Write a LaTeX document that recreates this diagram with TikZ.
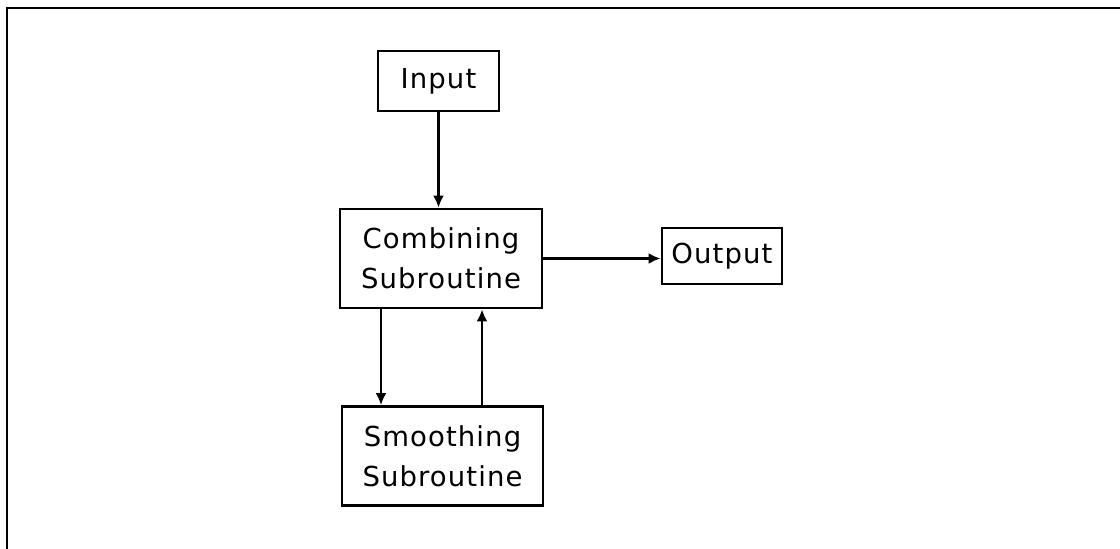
\documentclass[tikz,border=0pt]{standalone}
\usepackage{fontspec}
\setmainfont{DejaVu Sans}[LetterSpace=4]
\usetikzlibrary{arrows.meta}
\tikzset{
  blockbox/.style={draw, line width=2.8pt, rectangle, inner sep=0pt, align=center, font=\fontsize{27.5}{40}\selectfont},
  flowarrow/.style={line width=2.4pt, -{Latex[length=12pt,width=11pt]}},
  framerule/.style={line width=2.6pt}
}
\begin{document}
\begin{tikzpicture}[x=1pt,y=-1pt]
\useasboundingbox (0,0) rectangle (1120,549);
\coordinate (ftl) at (7,8);
\coordinate (ftr) at (1120,8);
\coordinate (fbl) at (7,549);
\draw[framerule] (ftr) -- (ftl) -- (fbl);
\node[blockbox, minimum width=121pt, minimum height=60pt] (inp) at (438.5,81) {Input};
\node[blockbox, minimum width=202pt, minimum height=99pt] (comb) at (441,258.5) {Combining\\Subroutine};
\node[blockbox, minimum width=120pt, minimum height=56pt] (out) at (722,256) {Output};
\node[blockbox, minimum width=201pt, minimum height=99pt] (smooth) at (442.5,456) {Smoothing\\Subroutine};
\draw[flowarrow] (inp.south) -- (inp.south |- comb.north);
\draw[flowarrow] (comb.east) -- (comb.east -| out.west);
\coordinate (dx) at (381,0);
\coordinate (ux) at (482,0);
\draw[flowarrow] (dx |- comb.south) -- (dx |- smooth.north);
\draw[flowarrow] (ux |- smooth.north) -- (ux |- comb.south);
\end{tikzpicture}
\end{document}
